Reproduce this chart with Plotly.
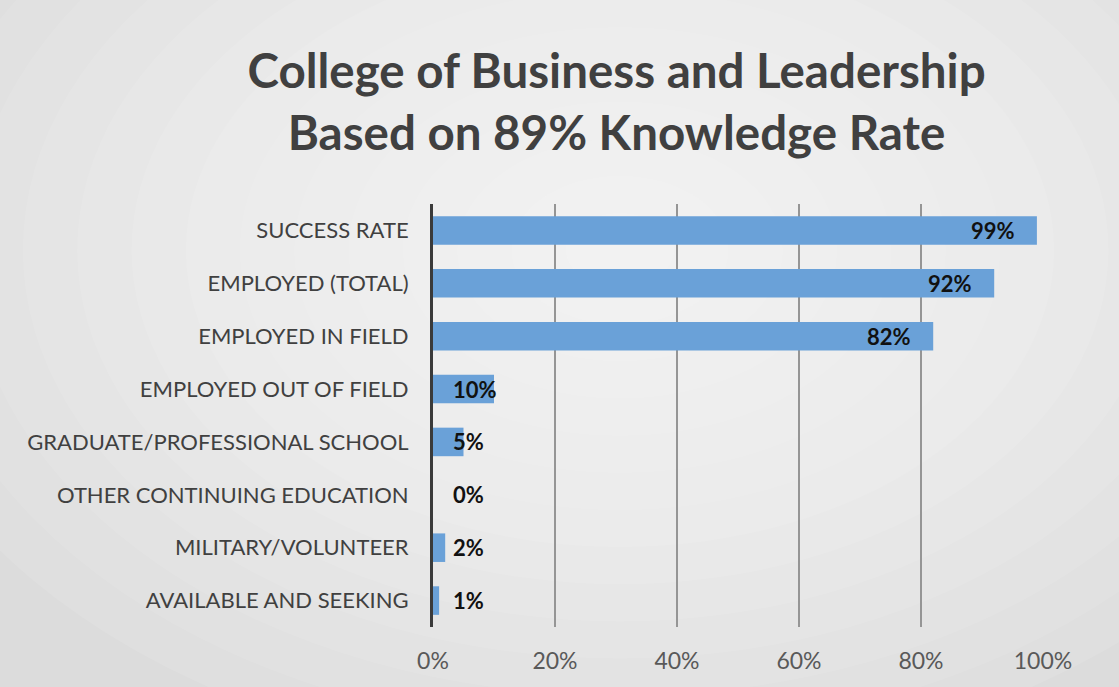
import plotly.graph_objects as go

categories = ["SUCCESS RATE", "EMPLOYED (TOTAL)", "EMPLOYED IN FIELD", "EMPLOYED OUT OF FIELD",
              "GRADUATE/PROFESSIONAL SCHOOL", "OTHER CONTINUING EDUCATION",
              "MILITARY/VOLUNTEER", "AVAILABLE AND SEEKING"]
values = [0.99, 0.92, 0.82, 0.10, 0.05, 0.0, 0.02, 0.01]
tick_vals = [0, 0.2, 0.4, 0.6, 0.8, 1.0]
tick_text = ["0%", "20%", "40%", "60%", "80%", "100%"]
title_text = "College of Business and Leadership<br>Based on 89% Knowledge Rate"

W, H = 1119, 687
L, R, T, B = 433, 76, 204, 60
pw, ph = W - L - R, H - T - B
FONT = "Lato, 'Open Sans', sans-serif"

def px(x):
    return (x - L) / pw

def py(y):
    return (H - B - y) / ph

fig = go.Figure()
fig.add_trace(go.Bar(
    y=categories, x=values, orientation="h",
    marker=dict(color="#6aa1d8", line=dict(width=0)),
    width=0.54, hoverinfo="x+y", showlegend=False,
))

annotations = []
for c, v in zip(categories, values):
    lab = f"<b>{round(v*100)}%</b>"
    if v >= 0.15:
        annotations.append(dict(x=v, y=c, xref="x", yref="y", text=lab,
                                showarrow=False, xanchor="right", xshift=-20,
                                font=dict(family=FONT, size=22, color="#111111")))
    else:
        annotations.append(dict(x=0, y=c, xref="x", yref="y", text=lab,
                                showarrow=False, xanchor="left", xshift=18,
                                font=dict(family=FONT, size=22, color="#111111")))

# soft radial background glow
shapes = []
cx, cy = 620, 250
n = 14
for i in range(n):
    f = 1 - i / n
    rx, ry = 760 * f, 520 * f
    shapes.append(dict(type="circle", xref="paper", yref="paper", layer="below",
                       x0=px(cx - rx), x1=px(cx + rx), y0=py(cy + ry), y1=py(cy - ry),
                       fillcolor="white", opacity=0.09, line=dict(width=0)))

fig.update_layout(
    width=W, height=H,
    margin=dict(l=L, r=R, t=T, b=B, pad=0),
    paper_bgcolor="#dcdcdc",
    plot_bgcolor="rgba(0,0,0,0)",
    title=dict(text=title_text, x=0.551, xanchor="center", y=1 - 88 / H, yanchor="middle",
               yref="container",
               font=dict(family=FONT, size=47.5, color="#404040", weight="bold")),
    xaxis=dict(range=[0, 1.0], tickvals=tick_vals, ticktext=tick_text, showgrid=True,
               gridcolor="#959595", gridwidth=2, zeroline=False, showline=False,
               ticks="", ticklabelstandoff=18,
               tickfont=dict(family=FONT, size=23, color="#595959"),
               fixedrange=True),
    yaxis=dict(autorange="reversed", showline=True, linecolor="#3a3a3a", linewidth=3,
               showgrid=False, ticks="", ticklabelstandoff=17,
               tickfont=dict(family=FONT, size=22, color="#404040"),
               fixedrange=True),
    annotations=annotations,
    shapes=shapes,
    bargap=0.46,
)

fig.write_html("out.html", config={"displayModeBar": False},
               post_script="document.body.style.margin='0';document.body.style.padding='0';")
